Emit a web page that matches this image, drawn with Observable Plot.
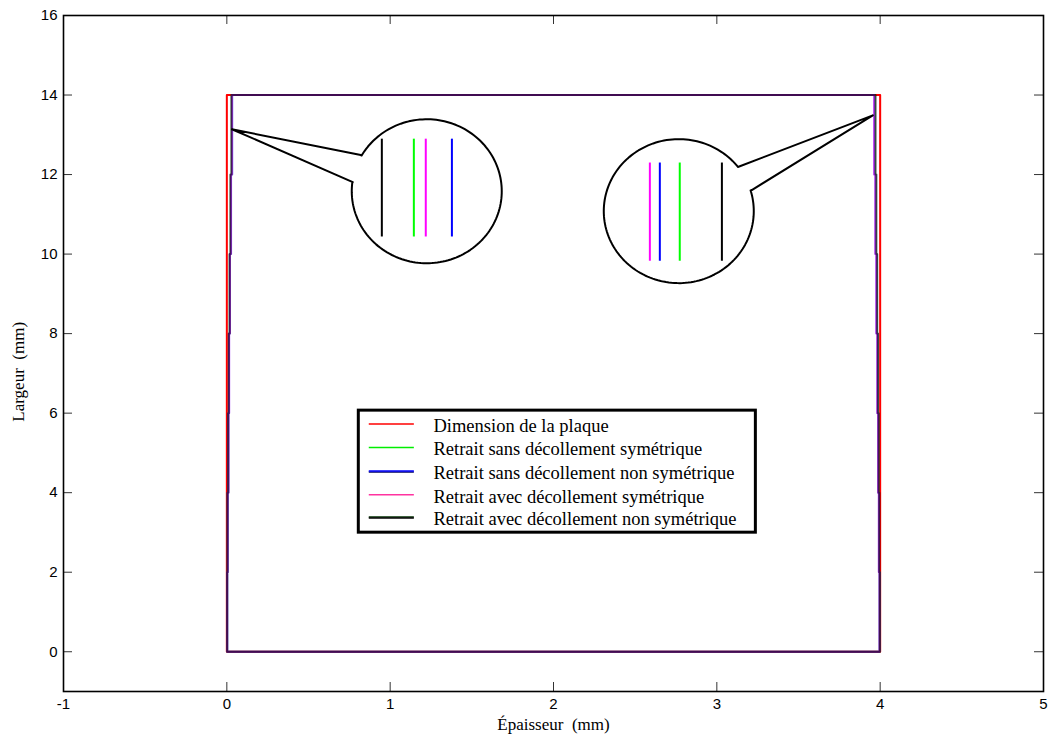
<!DOCTYPE html>
<html>
<head>
<meta charset="utf-8">
<script src="https://cdn.jsdelivr.net/npm/d3@7"></script>
<script src="https://cdn.jsdelivr.net/npm/@observablehq/plot@0.6"></script>
<style>
  body { margin: 0; background: #fff; }
  svg { display: block; }
</style>
</head>
<body>
<div id="chart"></div>
<script>
// ---------- data ----------
const xTicks = [-1, 0, 1, 2, 3, 4, 5];
const yTicks = [0, 2, 4, 6, 8, 10, 12, 14, 16];
const plateWidth = 4;     // mm
const plateHeight = 14;   // mm
const bandEdges = [0, 2, 4, 6, 8, 10, 12, 14];

const seriesNames = [
  "Dimension de la plaque",
  "Retrait sans décollement symétrique",
  "Retrait sans décollement non symétrique",
  "Retrait avec décollement symétrique",
  "Retrait avec décollement non symétrique"
];

// shrinkage (mm) of left edge, per 2 mm band from bottom to top
const leftGreen   = [0.002, 0.005, 0.009, 0.013, 0.018, 0.024, 0.030];
const leftBlue    = [0.003, 0.006, 0.010, 0.014, 0.019, 0.026, 0.033];
const leftMagenta = [0.002, 0.005, 0.010, 0.014, 0.019, 0.025, 0.031];
const leftBlack   = [0.002, 0.004, 0.008, 0.012, 0.017, 0.022, 0.028];
// shrinkage (mm) of right edge, per band from bottom to top
const rightGreen   = [0.003, 0.007, 0.011, 0.016, 0.021, 0.027, 0.033];
const rightBlue    = [0.004, 0.008, 0.012, 0.017, 0.023, 0.029, 0.036];
const rightMagenta = [0.004, 0.008, 0.013, 0.018, 0.024, 0.030, 0.037];
const rightBlack   = [0.002, 0.005, 0.009, 0.013, 0.018, 0.023, 0.028];

// callouts (data units)
const calloutLeft  = {center: [1.224, 11.58], tip: [0.031, 13.14], upper: [0.820, 12.49], lower: [0.771, 11.81]};
const calloutRight = {center: [2.767, 11.08], tip: [3.955, 13.49], upper: [3.129, 12.19], lower: [3.214, 11.61]};
const zoomLeftX   = [0.949, 1.145, 1.218, 1.378];
const zoomLeftKey = ["black", "green", "magenta", "blue"];
const zoomLeftY   = [10.43, 12.89];
const zoomRightX   = [2.590, 2.651, 2.773, 3.031];
const zoomRightKey = ["magenta", "blue", "green", "black"];
const zoomRightY   = [9.82, 12.29];

// ---------- layout ----------
const W = 1053, H = 738;
const mL = 63, mR = 10, mT = 15, mB = 47;
const xDomain = [-1, 5], yDomain = [-1, 16];
const kx = (W - mL - mR) / (xDomain[1] - xDomain[0]);
const ky = (H - mT - mB) / (yDomain[1] - yDomain[0]);
const pxX = p => p / kx, pxY = p => p / ky;

const palette = {red: "#ff0000", green: "#00ff00", blue: "#0000ff", magenta: "#ff00ff", black: "#000000"};

// ---------- build series outlines ----------
function outline(name, left, right) {
  const pts = [];
  pts.push([left[0], 0]);
  pts.push([plateWidth - right[0], 0]);
  for (let i = 0; i < right.length; i++) {
    pts.push([plateWidth - right[i], bandEdges[i]]);
    pts.push([plateWidth - right[i], bandEdges[i + 1]]);
  }
  for (let i = left.length - 1; i >= 0; i--) {
    pts.push([left[i], bandEdges[i + 1]]);
    pts.push([left[i], bandEdges[i]]);
  }
  return pts.map(([x, y], i) => ({series: name, x, y, i}));
}
const plateRows = [[0, 0], [plateWidth, 0], [plateWidth, plateHeight], [0, plateHeight], [0, 0]]
  .map(([x, y]) => ({x, y}));
const shrinkSeries = [
  {key: "green",   rows: outline(seriesNames[1], leftGreen, rightGreen),     opacity: 0.6},
  {key: "blue",    rows: outline(seriesNames[2], leftBlue, rightBlue),       opacity: 0.55},
  {key: "magenta", rows: outline(seriesNames[3], leftMagenta, rightMagenta), opacity: 0.55},
  {key: "black",   rows: outline(seriesNames[4], leftBlack, rightBlack),     opacity: 0.6}
];

// ---------- callout bubble geometry ----------
function bubble(c, rx, ry) {
  const ang = p => Math.atan2((p[1] - c.center[1]) * ky / ry, (p[0] - c.center[0]) * kx / rx);
  const a1 = ang(c.lower), a2 = ang(c.upper);
  let d = a2 - a1;
  while (d > Math.PI) d -= 2 * Math.PI;
  while (d <= -Math.PI) d += 2 * Math.PI;
  const longWay = d > 0 ? d - 2 * Math.PI : d + 2 * Math.PI;
  const pts = [c.upper, c.tip, c.lower];
  const n = 160;
  for (let k = 0; k <= n; k++) {
    const a = a1 + longWay * k / n;
    pts.push([c.center[0] + pxX(rx * Math.cos(a)), c.center[1] + pxY(ry * Math.sin(a))]);
  }
  pts.push(c.upper);
  return pts.map(([x, y]) => ({x, y}));
}
const bubbleRows = [
  ...bubble(calloutLeft, 75, 72).map(d => ({...d, b: "L"})),
  ...bubble(calloutRight, 75, 72).map(d => ({...d, b: "R"}))
];
const zoomRows = [
  ...zoomLeftX.map((x, i) => ({x, y1: zoomLeftY[0], y2: zoomLeftY[1], c: palette[zoomLeftKey[i]]})),
  ...zoomRightX.map((x, i) => ({x, y1: zoomRightY[0], y2: zoomRightY[1], c: palette[zoomRightKey[i]]}))
];

// ---------- legend (positioned in data units) ----------
const legBox = {x1: 0.808, x2: 3.239, y1: 2.994, y2: 6.063};
const legRowY = [5.725, 5.138, 4.535, 3.95, 3.38];
const legSample = {x1: 0.869, x2: 1.145};
const legTextX = 1.265;
const legendLines = [
  {row: 0, c: "#ff0000", dy: 0},
  {row: 1, c: "#00ee00", dy: 0},
  {row: 2, c: "#000060", dy: 0.6},
  {row: 2, c: "#0000ff", dy: -0.4},
  {row: 3, c: "#ff33a0", dy: 0},
  {row: 4, c: "#003000", dy: -0.4},
  {row: 4, c: "#000000", dy: 0.6}
];

const tickLenX = pxX(9), tickLenY = pxY(9);
const serif = "Liberation Serif, Times New Roman, serif";
const sans = "Liberation Sans, Arial, sans-serif";

const marks = [
  // inward ticks on all four sides
  Plot.ruleX(xTicks, {x: d => d, y1: () => yDomain[0], y2: () => yDomain[0] + tickLenY, stroke: "#333", strokeWidth: 1}),
  Plot.ruleX(xTicks, {x: d => d, y1: () => yDomain[1], y2: () => yDomain[1] - tickLenY, stroke: "#333", strokeWidth: 1}),
  Plot.ruleY(yTicks, {y: d => d, x1: () => xDomain[0], x2: () => xDomain[0] + tickLenX, stroke: "#333", strokeWidth: 1}),
  Plot.ruleY(yTicks, {y: d => d, x1: () => xDomain[1], x2: () => xDomain[1] - tickLenX, stroke: "#333", strokeWidth: 1}),
  Plot.frame({stroke: "#000", strokeWidth: 1.6}),
  Plot.axisX({ticks: xTicks, tickSize: 0, tickPadding: 7, tickFormat: d => String(d), fontSize: 15, fontFamily: sans, label: null}),
  Plot.axisY({ticks: yTicks, tickSize: 0, tickPadding: 6, tickFormat: d => String(d), fontSize: 15, fontFamily: sans, label: null}),
  // plate outline
  Plot.line(plateRows, {x: "x", y: "y", stroke: palette.red, strokeWidth: 2}),
  // shrunk outlines
  ...shrinkSeries.map(s => Plot.line(s.rows, {x: "x", y: "y", stroke: palette[s.key], strokeWidth: 2, strokeOpacity: s.opacity})),
  // callouts
  Plot.line(bubbleRows, {x: "x", y: "y", z: "b", stroke: "#000", strokeWidth: 2}),
  Plot.ruleX(zoomRows, {x: "x", y1: "y1", y2: "y2", stroke: "c", strokeWidth: 2}),
  // legend
  Plot.rect([legBox], {x1: "x1", x2: "x2", y1: "y1", y2: "y2", fill: "white", stroke: "#000", strokeWidth: 3}),
  Plot.link(legendLines, {x1: () => legSample.x1, x2: () => legSample.x2, y1: d => legRowY[d.row], y2: d => legRowY[d.row], stroke: "c", strokeWidth: 1.5}),
  Plot.text(seriesNames, {x: () => legTextX, y: (d, i) => legRowY[i], text: d => d, textAnchor: "start", dy: 2, fontSize: 18.5, fontFamily: serif, fill: "#000"}),
  // axis labels
  Plot.text(["Épaisseur  (mm)"], {x: () => (xDomain[0] + xDomain[1]) / 2, y: () => yDomain[0], dy: 33, text: d => d, fontSize: 17, fontFamily: serif, fill: "#000"}),
  Plot.text(["Largeur  (mm)"], {x: () => xDomain[0], y: () => 7.04, dx: -45, rotate: -90, text: d => d, fontSize: 17, fontFamily: serif, fill: "#000"})
];

const chart = Plot.plot({
  width: W, height: H,
  marginLeft: mL, marginRight: mR, marginTop: mT, marginBottom: mB,
  x: {domain: xDomain},
  y: {domain: yDomain},
  style: {background: "white", color: "#000", overflow: "visible"},
  marks
});
document.getElementById("chart").appendChild(chart);

// offset double legend sample strokes slightly (visual blend as in the original)
d3.select(chart).selectAll("g[aria-label=link] line, g[aria-label=link] path").each(function(_, i) {
  const off = legendLines[i] ? legendLines[i].dy : 0;
  if (off) d3.select(this).attr("transform", `translate(0,${off})`);
});
</script>
</body>
</html>
